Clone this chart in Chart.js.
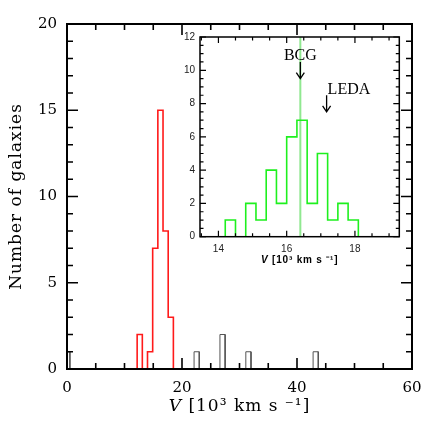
<!DOCTYPE html>
<html>
<head>
<meta charset="utf-8">
<script src="https://cdn.jsdelivr.net/npm/chart.js@4/dist/chart.umd.min.js"></script>
<style>
  html, body { margin: 0; padding: 0; background: #fff; }
  #wrap { position: relative; width: 436px; height: 436px; }
  #mainChart { position: absolute; left: 0; top: 0; }
  #insetChart { position: absolute; left: 170px; top: 26px; }
</style>
</head>
<body>
<div id="wrap">
  <canvas id="mainChart" width="436" height="436"></canvas>
  <canvas id="insetChart" width="240" height="249"></canvas>
</div>
<script>
// --- Data utama (kecepatan dalam 10^3 km/s) ---
const mainEdges = [12.2, 13.1, 14.0, 14.9, 15.8, 16.7, 17.6, 18.5];
const mainCounts = [2, 0, 1, 7, 15, 8, 3];
const otherLow = [-0.4, 22.1, 26.6, 31.1, 42.8];
const otherHigh = [0.5, 23.0, 27.5, 32.0, 43.7];
const otherCounts = [1, 1, 2, 1, 1];
const mainXTicks = [0, 20, 40, 60];
const mainYTicks = [0, 5, 10, 15, 20];

// --- Data inset ---
const insetEdges = [14.2, 14.5, 14.8, 15.1, 15.4, 15.7, 16.0, 16.3, 16.6, 16.9, 17.2, 17.5, 17.8, 18.1];
const insetCounts = [1, 0, 2, 1, 4, 2, 6, 7, 2, 5, 1, 2, 1];
const insetXTicks = [14, 16, 18];
const insetYTicks = [0, 2, 4, 6, 8, 10, 12];
const bcgVelocity = 16.4;
const markerNames = ['BCG', 'LEDA'];
const markerVelocity = [16.4, 17.17];
const markerCount = [10.5, 8.5];
const markerAlign = ['center', 'left'];

// garis tepi histogram dari tepi bin dan jumlah
function outline(edges, counts, start) {
  const pts = [];
  if (start !== undefined) pts.push({ x: start, y: 0 });
  pts.push({ x: edges[0], y: 0 });
  counts.forEach((c, i) => {
    pts.push({ x: edges[i], y: c }, { x: edges[i + 1], y: c });
  });
  pts.push({ x: edges[edges.length - 1], y: 0 });
  return pts;
}

// batang terpisah, diputus dengan titik null
function bars(lo, hi, counts) {
  const pts = [];
  counts.forEach((c, i) => {
    pts.push({ x: lo[i], y: 0 }, { x: lo[i], y: c }, { x: hi[i], y: c }, { x: hi[i], y: 0 }, { x: hi[i], y: null });
  });
  return pts;
}

// kotak dan tick ke dalam di keempat sisi
const framePlugin = {
  id: 'frame',
  afterDatasetsDraw(chart, args, opts) {
    const { ctx, chartArea: a, scales: { x, y } } = chart;
    ctx.save();
    ctx.strokeStyle = '#000';
    ctx.lineWidth = opts.width;
    ctx.strokeRect(a.left, a.top, a.right - a.left, a.bottom - a.top);
    ctx.lineWidth = opts.tickWidth;
    const isMajor = (scale, v) => scale.ticks.some(t => Math.abs(t.value - v) < 1e-6);
    const each = (scale, step, fn) => {
      const k0 = Math.ceil(scale.min / step - 1e-9);
      const k1 = Math.floor(scale.max / step + 1e-9);
      for (let k = k0; k <= k1; k++) {
        const v = k * step;
        fn(scale.getPixelForValue(v), isMajor(scale, v) ? opts.majorLen : opts.minorLen);
      }
    };
    ctx.beginPath();
    each(x, opts.xMinor, (px, len) => {
      ctx.moveTo(px, a.bottom); ctx.lineTo(px, a.bottom - len);
      ctx.moveTo(px, a.top); ctx.lineTo(px, a.top + len);
    });
    each(y, opts.yMinor, (py, len) => {
      ctx.moveTo(a.left, py); ctx.lineTo(a.left + len, py);
      ctx.moveTo(a.right, py); ctx.lineTo(a.right - len, py);
    });
    ctx.stroke();
    ctx.restore();
  }
};

// judul sumbu x (V miring) dan judul sumbu y
const titlePlugin = {
  id: 'titles',
  afterDraw(chart, args, opts) {
    const { ctx, chartArea: a } = chart;
    ctx.save();
    ctx.fillStyle = '#000';
    ctx.textBaseline = 'middle';
    ctx.letterSpacing = opts.spacing + 'px';
    const fontV = 'italic ' + opts.weight + ' ' + opts.size + 'px ' + opts.family;
    const fontRest = opts.weight + ' ' + opts.size + 'px ' + opts.family;
    ctx.font = fontV;
    const wV = ctx.measureText('V').width;
    ctx.font = fontRest;
    const wR = ctx.measureText(opts.xRest).width;
    const x0 = (a.left + a.right) / 2 - (wV + wR) / 2;
    const y0 = a.bottom + opts.xOffset;
    ctx.font = fontV;
    ctx.fillText('V', x0, y0);
    ctx.font = fontRest;
    ctx.fillText(opts.xRest, x0 + wV, y0);
    if (opts.yText) {
      ctx.translate(opts.yX, (a.top + a.bottom) / 2);
      ctx.rotate(-Math.PI / 2);
      ctx.textAlign = 'center';
      ctx.fillText(opts.yText, 0, 0);
    }
    ctx.restore();
  }
};

// label BCG dan LEDA dengan panah
const markerPlugin = {
  id: 'markers',
  afterDatasetsDraw(chart, args, opts) {
    if (!opts.show) return;
    const { ctx, scales: { x, y } } = chart;
    ctx.save();
    ctx.strokeStyle = '#000';
    ctx.fillStyle = '#000';
    ctx.lineWidth = 1.3;
    ctx.font = '16px "Liberation Serif"';
    ctx.textBaseline = 'alphabetic';
    markerNames.forEach((name, i) => {
      const px = x.getPixelForValue(markerVelocity[i]);
      const top = y.getPixelForValue(markerCount[i]);
      const tip = y.getPixelForValue(markerCount[i] - 1);
      ctx.textAlign = markerAlign[i];
      ctx.fillText(name, markerAlign[i] === 'left' ? px + 1 : px, top - 1.5);
      ctx.beginPath();
      ctx.moveTo(px, top); ctx.lineTo(px, tip);
      ctx.moveTo(px - 4, tip - 6); ctx.lineTo(px, tip); ctx.lineTo(px + 4, tip - 6);
      ctx.stroke();
    });
    ctx.restore();
  }
};

Chart.register(framePlugin, titlePlugin, markerPlugin);

document.addEventListener('DOMContentLoaded', () => {
  const serif = 'DejaVu Serif';

  new Chart(document.getElementById('mainChart'), {
    type: 'line',
    data: {
      datasets: [
        { data: outline(mainEdges, mainCounts), borderColor: '#ff1a1a', borderWidth: 1.6 },
        { data: bars(otherLow, otherHigh, otherCounts), borderColor: '#555', borderWidth: 1, spanGaps: false }
      ]
    },
    options: {
      responsive: false,
      animation: false,
      devicePixelRatio: 1,
      parsing: false,
      elements: { point: { radius: 0 }, line: { tension: 0 } },
      layout: { padding: { top: 24, right: 24, left: 0, bottom: 0 } },
      plugins: {
        legend: { display: false },
        tooltip: { enabled: false },
        frame: { width: 2, tickWidth: 1.6, majorLen: 11, minorLen: 6, xMinor: 5, yMinor: 1 },
        titles: {
          xRest: ' [10³ km s ⁻¹]', size: 17, family: serif, weight: 'normal', spacing: 1, xOffset: 38,
          yText: 'Number of galaxies', yX: 17
        },
        markers: { show: false }
      },
      scales: {
        x: {
          type: 'linear', min: 0, max: 60,
          grid: { display: false, drawTicks: false },
          border: { display: false },
          afterBuildTicks: s => { s.ticks = mainXTicks.map(v => ({ value: v })); },
          afterFit: s => { s.height = 67; },
          ticks: { color: '#000', font: { family: serif, size: 15 }, padding: 10, maxRotation: 0, autoSkip: false }
        },
        y: {
          type: 'linear', min: 0, max: 20,
          grid: { display: false, drawTicks: false },
          border: { display: false },
          afterBuildTicks: s => { s.ticks = mainYTicks.map(v => ({ value: v })); },
          afterFit: s => { s.width = 67; },
          ticks: { color: '#000', font: { family: serif, size: 15 }, padding: 10, autoSkip: false }
        }
      }
    }
  });

  new Chart(document.getElementById('insetChart'), {
    type: 'line',
    data: {
      datasets: [
        { data: outline(insetEdges, insetCounts, 13.0), borderColor: '#1ef01e', borderWidth: 1.6 },
        { data: [{ x: bcgVelocity, y: 0 }, { x: bcgVelocity, y: 12 }], borderColor: '#90e890', borderWidth: 2 }
      ]
    },
    options: {
      responsive: false,
      animation: false,
      devicePixelRatio: 1,
      parsing: false,
      elements: { point: { radius: 0 }, line: { tension: 0 } },
      layout: { padding: { top: 11, right: 10.7, left: 0, bottom: 0 } },
      plugins: {
        legend: { display: false },
        tooltip: { enabled: false },
        frame: { width: 1.5, tickWidth: 1.2, majorLen: 6, minorLen: 3.5, xMinor: 0.5, yMinor: 0.5 },
        titles: { xRest: ' [10³ km s ⁻¹]', size: 10, family: '"Liberation Sans"', weight: 'bold', spacing: 0.8, xOffset: 24 },
        markers: { show: true }
      },
      scales: {
        x: {
          type: 'linear', min: 13.46, max: 19.3,
          grid: { display: false, drawTicks: false },
          border: { display: false },
          afterBuildTicks: s => { s.ticks = insetXTicks.map(v => ({ value: v })); },
          afterFit: s => { s.height = 38.3; },
          ticks: { color: '#222', font: { family: '"Liberation Sans"', size: 10 }, padding: 7, maxRotation: 0, autoSkip: false }
        },
        y: {
          type: 'linear', min: 0, max: 12,
          grid: { display: false, drawTicks: false },
          border: { display: false },
          afterBuildTicks: s => { s.ticks = insetYTicks.map(v => ({ value: v })); },
          afterFit: s => { s.width = 30; },
          ticks: { color: '#222', font: { family: '"Liberation Sans"', size: 10 }, padding: 5, autoSkip: false }
        }
      }
    }
  });
});
</script>
</body>
</html>
